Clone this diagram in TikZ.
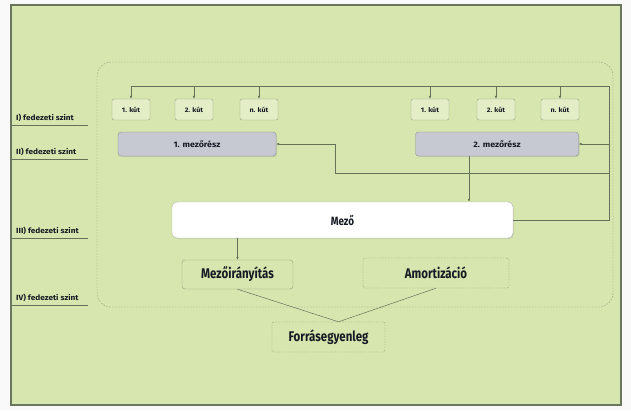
\documentclass[tikz,border=0pt]{standalone}
\usepackage{fontspec}
\setmainfont{Fira Sans}
\newfontfamily\condfont{Fira Sans}[FakeStretch=0.82]
\newfontfamily\widefont{Fira Sans}[FakeStretch=1.1]
\usetikzlibrary{arrows.meta,shadows}

\definecolor{bggreen}{RGB}{215,230,174}
\definecolor{framec}{RGB}{105,120,92}
\definecolor{linec}{RGB}{100,114,90}
\definecolor{boxc}{RGB}{148,163,128}
\definecolor{dashc}{RGB}{135,150,118}
\definecolor{mzfill}{RGB}{198,200,210}
\definecolor{mzdraw}{RGB}{140,143,152}
\definecolor{txt}{RGB}{22,26,36}

\tikzset{
  kut/.style={draw=boxc, fill=bggreen!70!white, rounded corners=2pt, minimum width=38pt,
    minimum height=21pt, inner sep=1pt, text=txt, font=\widefont\fontsize{6.5}{7}\selectfont\bfseries},
  reszbox/.style={draw=mzdraw, fill=mzfill, rounded corners=3pt, minimum height=24pt,
    text=txt, font=\widefont\fontsize{8}{9}\selectfont\bfseries,
    drop shadow={opacity=0.25, shadow xshift=1pt, shadow yshift=-1pt}},
  mezobox/.style={draw=mzdraw!60, fill=white, rounded corners=5pt, minimum width=341pt,
    minimum height=36pt, text=txt, font=\condfont\fontsize{12}{13}\selectfont\bfseries,
    drop shadow={opacity=0.2, shadow xshift=1pt, shadow yshift=-1pt}},
  solidbox/.style={draw=boxc, rounded corners=3pt, minimum height=29pt, text=txt,
    font=\condfont\fontsize{14}{15}\selectfont\bfseries},
  dotbox/.style={draw=dashc, dash pattern=on 1.4pt off 1.4pt, rounded corners=2pt,
    minimum height=30pt, text=txt, font=\condfont\fontsize{14}{15}\selectfont\bfseries},
  conn/.style={draw=linec, line width=0.5pt},
  levlabel/.style={anchor=west, inner sep=0pt, text=txt, font=\widefont\fontsize{7.5}{8}\selectfont\bfseries},
  levline/.style={draw=linec, line width=0.6pt}
}

\begin{document}
\begin{tikzpicture}[x=1pt, y=-1pt, >={Latex[length=3pt,width=2.6pt]}]
  % page and panel
  \fill[white!95!gray] (0,0) rectangle (631,410);
  \useasboundingbox (0,0) rectangle (631,410);
  \draw[framec, line width=1.1pt, fill=bggreen] (11,5) rectangle (621,405);

  % dashed area
  \draw[dashc, dash pattern=on 1.5pt off 1.5pt, rounded corners=14pt] (97,62) rectangle (613,307);

  % levels
  \foreach \y/\t [count=\i] in {118/I), 152/II), 231/III), 298/IV)} {
    \node[levlabel] (lev\i) at (16,\y) {\t\ fedezeti szint};
    \draw[levline] (12,\y+7) -- (88,\y+7);
  }

  % wells
  \node[kut] (k1) at (131,109.5) {1. kút};
  \node[kut] (k2) at (194,109.5) {2. kút};
  \node[kut] (kn) at (259,109.5) {n. kút};
  \node[kut] (r1) at (430,109.5) {1. kút};
  \node[kut] (r2) at (496,109.5) {2. kút};
  \node[kut] (rn) at (560,109.5) {n. kút};

  % field parts, field
  \node[reszbox, minimum width=158pt] (m1) at (197,144) {1. mezőrész};
  \node[reszbox, minimum width=163pt] (m2) at (497,144) {2. mezőrész};
  \node[mezobox] (mezo) at (342.5,220) {Mező};

  \node[solidbox, minimum width=111pt] (mir) at (237.5,274.5) {Mezőirányítás};
  \node[dotbox, minimum width=146pt] (amort) at (436,273) {Amortizáció};
  \node[dotbox, minimum width=113pt] (forras) at (328.5,337) {Forrásegyenleg};

  \coordinate (tr) at (609,86);
  \coordinate (bend) at (335,173);

  % connectors
  \draw[conn] (mezo.east) -| (tr) -- (k1.north |- tr);
  \foreach \n in {k1,k2,kn,r1,r2,rn}
    \draw[conn,->] (\n.north |- tr) -- (\n.north);
  \draw[conn,->] (tr |- m2.east) -- (m2.east);
  \draw[conn,->] (tr |- bend) -- (bend) |- (m1.east);
  \draw[conn,->] ([xshift=-28pt]m2.south) -- ([xshift=-28pt]m2.south |- mezo.north);
  \draw[conn,->] (mezo.south -| mir.north) -- (mir.north);
  \draw[conn] (mir.south) -- ([xshift=10pt]forras.north);
  \draw[conn] (amort.south) -- ([xshift=10pt]forras.north);
\end{tikzpicture}
\end{document}
